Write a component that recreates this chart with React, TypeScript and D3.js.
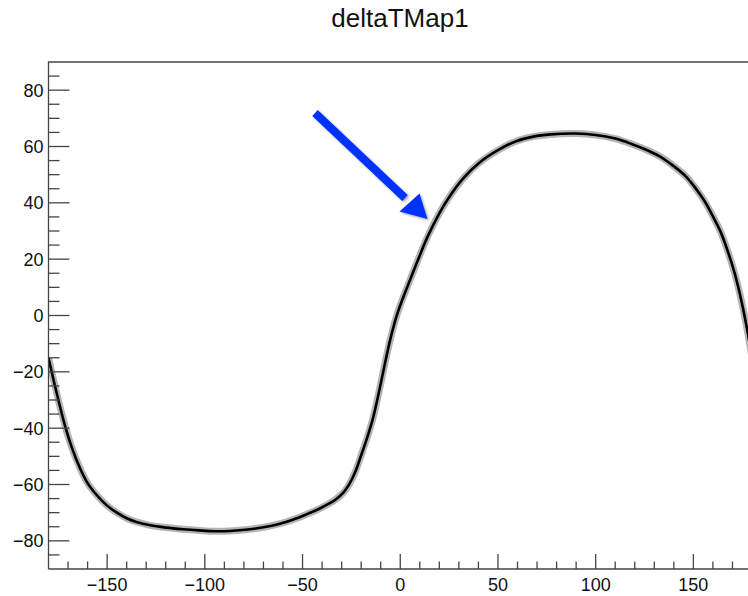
import React from "react";
import * as d3 from "d3";

const title = "deltaTMap1";
const xTickValues = [-150, -100, -50, 0, 50, 100, 150];
const yTickValues = [-80, -60, -40, -20, 0, 20, 40, 60, 80];
const curveX = [-180, -176, -172, -168, -164, -160, -155, -150, -145, -140, -135, -128, -120, -111, -103, -95, -87, -78, -70, -62, -55, -48, -42, -37, -33, -29, -26, -23, -20, -17, -14, -11, -8, -5, -2, 1, 5, 9, 14, 20, 25, 32, 40, 50, 59, 68, 77, 90, 100, 110, 118, 127, 134, 140, 146, 151, 156, 160, 164, 168, 171, 174, 177, 180];
const curveY = [-15, -27, -38, -47, -54, -59.5, -64, -67.5, -70, -72, -73.3, -74.5, -75.3, -75.9, -76.3, -76.6, -76.5, -76, -75.2, -74, -72.5, -70.6, -68.8, -67, -65.3, -62.8, -59.8, -55.5, -49.6, -43.5, -36.6, -27.5, -17.6, -8.2, -0.5, 5.5, 12.6, 19.6, 28, 36.3, 42, 48.5, 54, 58.7, 61.8, 63.5, 64.3, 64.6, 64.1, 62.8, 61, 58.5, 56, 53, 49.5, 45.3, 40.3, 35.2, 29.6, 22, 15.3, 7, -3, -15];

const W = 748, H = 596;
const L = 48.5, R = 752, T = 62, B = 569;

export default function App() {
  const x = d3.scaleLinear().domain([-180, 180]).range([L, R]);
  const y = d3.scaleLinear().domain([-90, 90]).range([B, T]);
  const pts: [number, number][] = curveX.map((v, i) => [v, curveY[i]]);
  const line = d3
    .line<[number, number]>()
    .x((d) => x(d[0]))
    .y((d) => y(d[1]))
    .curve(d3.curveCatmullRom.alpha(0.5));
  const path = line(pts) || "";
  const xMinor = d3.range(-170, 180, 10).filter((v) => v % 50 !== 0);
  const yMinor = d3.range(-85, 90, 5).filter((v) => v % 20 !== 0);
  const fmt = (v: number) => (v < 0 ? "\u2212" + Math.abs(v) : String(v));
  const axisColor = "#444";
  const font = "'Liberation Sans', Arial, Helvetica, sans-serif";
  return (
    <svg
      width={W}
      height={H}
      style={{ position: "absolute", left: 0, top: 0, background: "#fff" }}
      fontFamily={font}
    >
      <rect x={0} y={0} width={W} height={H} fill="#fff" />
      <text x={400} y={27} fontSize={26} textAnchor="middle" fill="#111">
        {title}
      </text>
      <defs>
        <clipPath id="frame">
          <rect x={L} y={T} width={R - L} height={B - T} />
        </clipPath>
        <filter id="shadow" x="-20%" y="-20%" width="140%" height="140%">
          <feDropShadow dx="1.5" dy="1.5" stdDeviation="1.2" floodColor="#000" floodOpacity="0.35" />
        </filter>
      </defs>
      <g clipPath="url(#frame)">
        <path d={path} fill="none" stroke="#b4b4b4" strokeWidth={7} strokeLinejoin="round" />
        <path d={path} fill="none" stroke="#000" strokeWidth={2.6} strokeLinejoin="round" />
      </g>
      <path d={`M${L},${B}V${T}H${R}`} fill="none" stroke={axisColor} strokeWidth={1.3} />
      <line x1={L} x2={R} y1={B} y2={B} stroke={axisColor} strokeWidth={1.3} />
      {xTickValues.map((v) => (
        <g key={"xt" + v}>
          <line x1={x(v)} x2={x(v)} y1={B} y2={B - 15} stroke={axisColor} strokeWidth={1.3} />
          <text x={x(v)} y={591} fontSize={18} textAnchor="middle" fill="#111">
            {fmt(v)}
          </text>
        </g>
      ))}
      {xMinor.map((v) => (
        <line key={"xm" + v} x1={x(v)} x2={x(v)} y1={B} y2={B - 7.5} stroke={axisColor} strokeWidth={1.3} />
      ))}
      {yTickValues.map((v) => (
        <g key={"yt" + v}>
          <line x1={L} x2={L + 21} y1={y(v)} y2={y(v)} stroke={axisColor} strokeWidth={1.3} />
          <text x={43.5} y={y(v)} dy="0.36em" fontSize={18} textAnchor="end" fill="#111">
            {fmt(v)}
          </text>
        </g>
      ))}
      {yMinor.map((v) => (
        <line key={"ym" + v} x1={L} x2={L + 11} y1={y(v)} y2={y(v)} stroke={axisColor} strokeWidth={1.3} />
      ))}
      <g filter="url(#shadow)">
        <line x1={315} y1={113} x2={405} y2={198} stroke="#0033ff" strokeWidth={8} />
        <polygon points="399.5,211.5 419.5,193.5 427.5,219" fill="#0033ff" />
      </g>
    </svg>
  );
}
